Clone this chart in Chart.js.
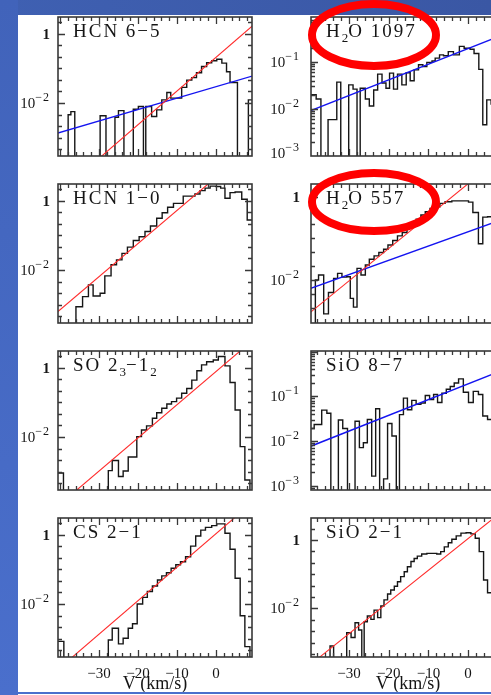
<!DOCTYPE html>
<html>
<head>
<meta charset="utf-8" />
<title>Line wings</title>
<script src="https://cdn.jsdelivr.net/npm/chart.js@4.4.1/dist/chart.umd.min.js"></script>
<style>
    html, body { margin: 0; padding: 0; }
    body { width: 491px; height: 695px; overflow: hidden; position: relative; background: #fff; }
    canvas.panel { position: absolute; z-index: 1; }
    #bandTop { position: absolute; left: 0; top: 0; width: 491px; height: 15px; background: linear-gradient(90deg, #3f60b2, #3a57a4); z-index: 2; }
    #bandLeft { position: absolute; left: 0; top: 0; width: 18px; height: 695px; background: linear-gradient(180deg, #4163ba, #4a6fcc); z-index: 2; }
    #bandBottom { position: absolute; left: 18px; top: 692px; width: 473px; height: 2px; background: #4a6fcc; z-index: 2; }
    #marks { position: absolute; left: 0; top: 0; z-index: 3; }
</style>
</head>
<body>
<div id="bandTop"></div>
<div id="bandLeft"></div>
<div id="bandBottom"></div>
<svg id="marks" width="491" height="695">
    <ellipse cx="374" cy="35" rx="62" ry="31" fill="none" stroke="#ff0000" stroke-width="8" />
    <ellipse cx="374" cy="202" rx="62" ry="29" fill="none" stroke="#ff0000" stroke-width="8" />
</svg>

<script>
// log10 of line intensity per channel, Z = no emission (drawn below the axis)
const Z = -8;

// x axis: V (km/s)
const xRangeLeft = [-40.5, 9.23];
const xRangeRight = [-39.6, 9.3];
const xTickLabels = [-30, -20, -10, 0];
// y tick labels by decade: [base, exponent]
const yLabelText = { '0': ['1', ''], '-1': ['10', '−1'], '-2': ['10', '−2'], '-3': ['10', '−3'] };

// HCN 6-5
const hcn65Edges = [-40.5, -37.9, -37.2, -36.2, -29.7, -28.2, -25.9, -25.0, -23.6, -21.2, -19.9, -18.6, -18.0, -16.5, -15.2, -13.9, -12.6, -11.6, -8.8, -7.5, -6.2, -5.0, -3.7, -2.4, -1.1, 0.2, 1.5, 2.7, 3.6, 5.5, 8.3, 9.3];
const hcn65LogT = [Z, -2.34, -2.25, Z, -2.37, Z, -2.41, -2.22, Z, -2.18, -2.10, Z, -2.10, -2.39, -2.20, -1.91, -1.70, -1.86, -1.55, -1.34, -1.27, -1.13, -0.95, -0.84, -0.78, -0.74, -0.85, -1.10, -1.41, Z, -1.91];
const hcn65Red = [[-30.0, -3.60], [9.5, 0.24]];
const hcn65Blue = [[-40.6, -2.87], [9.4, -1.22]];

// HCN 1-0
const hcn10Edges = [-40.5, -35.9, -34.2, -32.7, -31.5, -29.7, -28.5, -26.9, -25.5, -24.1, -22.7, -21.2, -19.7, -18.2, -16.8, -15.2, -13.8, -12.4, -10.9, -8.4, -5.4, -4.1, -2.8, -1.5, 0.0, 1.2, 2.3, 3.6, 4.9, 6.6, 8.0, 9.3];
const hcn10LogT = [Z, -3.06, -2.77, -2.43, -2.75, -2.67, -2.17, -1.85, -1.71, -1.52, -1.34, -1.15, -1.04, -0.89, -0.73, -0.51, -0.35, -0.19, -0.08, 0.13, 0.19, 0.29, 0.36, 0.42, 0.41, 0.36, 0.07, 0.23, 0.25, 0.04, -0.56];
const hcn10Red = [[-40.6, -3.21], [-1.5, 0.53]];

// SO 2_3-1_2
const soEdges = [-40.5, -39.1, -27.6, -26.6, -25.0, -23.8, -22.5, -20.3, -19.1, -17.8, -16.3, -15.2, -13.9, -12.6, -11.4, -10.1, -8.8, -7.5, -6.2, -4.9, -3.7, -2.4, -0.7, 0.6, 2.3, 3.6, 4.9, 6.2, 7.4, 8.7, 9.3];
const soLogT = [-3.04, Z, -2.97, -2.68, -3.14, -2.98, -2.58, -1.99, -1.80, -1.68, -1.46, -1.30, -1.17, -1.05, -0.98, -0.88, -0.74, -0.60, -0.36, -0.09, 0.08, 0.17, 0.22, 0.32, 0.05, -0.43, -1.22, -2.28, -3.24, Z];
const soRed = [[-36.0, -3.56], [6.5, 0.51]];

// CS 2-1
const csEdges = [-40.5, -39.0, -27.6, -26.6, -25.0, -23.8, -22.5, -21.4, -20.2, -18.8, -17.6, -16.3, -15.0, -13.9, -12.7, -11.5, -10.3, -9.1, -7.8, -6.5, -5.2, -3.9, -2.7, -1.1, 0.2, 2.3, 3.6, 4.9, 6.2, 7.4, 8.7, 9.3];
const csLogT = [-3.08, Z, -3.04, -2.70, -3.15, -2.99, -2.70, -2.57, -2.00, -1.81, -1.64, -1.48, -1.31, -1.19, -1.10, -0.97, -0.87, -0.78, -0.64, -0.33, -0.04, 0.13, 0.21, 0.26, 0.31, 0.04, -0.42, -1.26, -2.34, -3.23, Z];
const csRed = [[-37.0, -3.55], [5.2, 0.53]];

// H2O 1097
const h2o1097Edges = [-39.6, -38.3, -37.1, -35.3, -33.1, -32.1, -30.1, -29.0, -28.0, -27.2, -25.9, -24.9, -23.8, -22.8, -21.7, -20.7, -19.8, -18.8, -17.8, -16.7, -15.6, -14.6, -13.6, -12.5, -11.4, -10.4, -9.1, -8.3, -7.2, -6.2, -5.0, -3.7, -2.2, -1.0, 0.5, 1.5, 2.7, 3.7, 4.7, 5.8, 7.0, 9.3];
const h2o1097LogT = [-1.70, -1.79, Z, -2.23, -1.43, Z, -1.49, -1.58, Z, -1.56, -1.79, -1.94, -1.60, -1.26, -1.45, -1.56, -1.24, -1.58, -1.26, -1.49, -1.23, -1.40, -1.17, -1.06, -1.10, -1.01, -0.98, -0.92, -0.85, -0.87, -0.78, -0.85, -0.67, -0.71, -0.73, -0.82, -1.16, -2.34, -1.81, -1.90, -2.30];
const h2o1097Blue = [[-39.7, -2.04], [9.4, -0.40]];

// H2O 557
const h2o557Edges = [-39.6, -38.5, -37.7, -36.4, -35.2, -33.9, -32.9, -31.8, -30.6, -29.7, -28.9, -28.0, -27.0, -25.9, -24.9, -23.7, -22.5, -21.3, -20.2, -19.0, -17.8, -16.6, -15.4, -14.3, -13.1, -11.9, -10.8, -9.6, -8.3, -7.1, -5.8, -4.1, -2.0, 0.1, 1.2, 2.6, 3.7, 4.9, 6.2, 9.3];
const h2o557LogT = [Z, -2.00, -1.88, -2.81, -2.30, -1.96, -1.84, -1.93, -1.92, -2.44, -2.65, -1.72, -1.88, -1.64, -1.50, -1.42, -1.34, -1.26, -1.16, -1.05, -0.94, -0.86, -0.76, -0.64, -0.54, -0.44, -0.36, -0.28, -0.24, -0.16, -0.12, -0.10, -0.10, -0.13, -0.38, -1.13, -0.49, -0.48, -0.50];
const h2o557Red = [[-39.7, -2.77], [0.5, 0.35]];
const h2o557Blue = [[-39.7, -2.20], [9.4, -0.52]];

// SiO 8-7
const sio87Edges = [-39.6, -38.8, -36.9, -35.6, -34.6, -32.7, -31.6, -30.4, -28.5, -27.4, -26.4, -25.4, -24.3, -23.3, -22.3, -21.3, -20.3, -19.2, -18.1, -17.3, -16.3, -15.3, -14.2, -13.1, -11.9, -10.8, -9.7, -8.7, -7.7, -6.6, -5.5, -4.5, -3.5, -2.4, -1.2, 0.1, 1.3, 2.6, 3.7, 4.9, 6.2, 9.3];
const sio87LogT = [-1.72, -1.63, -1.31, -1.38, Z, -1.53, -1.72, Z, -1.56, -2.15, -2.04, -1.52, -2.79, -1.28, Z, -2.85, -1.61, -1.89, Z, -1.41, -1.04, -1.30, -1.09, -1.18, -1.15, -0.98, -1.07, -0.96, -1.14, -0.93, -0.84, -0.78, -0.70, -0.61, -0.91, -1.14, -0.89, -0.96, -1.44, -1.52, -2.00];
const sio87Blue = [[-39.7, -2.12], [9.4, -0.39]];

// SiO 2-1
const sio21Edges = [-39.6, -34.8, -33.9, -30.6, -29.5, -28.5, -27.6, -26.8, -26.2, -25.4, -24.5, -23.7, -22.8, -22.0, -21.2, -20.3, -19.5, -18.6, -17.8, -17.0, -16.1, -15.3, -14.4, -13.6, -12.8, -11.7, -10.4, -9.1, -7.9, -6.9, -6.0, -5.0, -4.1, -3.0, -1.8, -0.5, 0.7, 1.8, 2.8, 3.9, 4.9, 6.2, 9.3];
const sio21LogT = [Z, -3.10, Z, -2.71, -2.85, -2.42, -2.63, Z, -2.39, -2.22, -2.32, -2.05, -2.27, -1.93, -1.75, -1.58, -1.46, -1.35, -1.22, -1.07, -0.93, -0.78, -0.63, -0.54, -0.47, -0.41, -0.39, -0.39, -0.41, -0.34, -0.20, -0.08, 0.02, 0.12, 0.20, 0.21, 0.18, 0.05, -0.34, -1.17, -1.54, -2.30];
const sio21Red = [[-37.5, -3.43], [7.0, 0.69]];

// layout of the 4x2 grid
const rowTop = [17, 184, 351, 518];
const colLeft = [58, 311];
const panelW = 194, panelH = 139, yAxisW = 58;
const serif = '"Liberation Serif", "DejaVu Serif", serif';

const panels = [
    { col: 0, row: 0, label: [['HCN 6−5']], yLog: [-3.53, 0.48], yTicks: 'third', yLabels: [0, -2], edges: hcn65Edges, logT: hcn65LogT, red: hcn65Red, blue: hcn65Blue },
    { col: 1, row: 0, label: [['H'], ['2', 1], ['O 1097']], yLog: [-3.005, -0.043], yTicks: 'decade', yLabels: [-1, -2, -3], edges: h2o1097Edges, logT: h2o1097LogT, blue: h2o1097Blue },
    { col: 0, row: 1, label: [['HCN 1−0']], yLog: [-3.53, 0.48], yTicks: 'third', yLabels: [0, -2], edges: hcn10Edges, logT: hcn10LogT, red: hcn10Red },
    { col: 1, row: 1, label: [['H'], ['2', 1], ['O 557']], yLog: [-3.03, 0.305], yTicks: 'third', yLabels: [0, -2], edges: h2o557Edges, logT: h2o557LogT, red: h2o557Red, blue: h2o557Blue },
    { col: 0, row: 2, label: [['SO 2'], ['3', 1], ['−1'], ['2', 1]], yLog: [-3.53, 0.48], yTicks: 'third', yLabels: [0, -2], edges: soEdges, logT: soLogT, red: soRed },
    { col: 1, row: 2, label: [['SiO 8−7']], yLog: [-3.1, 0.016], yTicks: 'decade', yLabels: [-1, -2, -3], edges: sio87Edges, logT: sio87LogT, blue: sio87Blue },
    { col: 0, row: 3, label: [['CS 2−1']], yLog: [-3.53, 0.48], yTicks: 'third', yLabels: [0, -2], edges: csEdges, logT: csLogT, red: csRed },
    { col: 1, row: 3, label: [['SiO 2−1']], yLog: [-3.42, 0.643], yTicks: 'third', yLabels: [0, -2], edges: sio21Edges, logT: sio21LogT, red: sio21Red }
];

function yTickList(mode, lo, hi) {
    const list = [];
    if (mode === 'third') {
        for (let k = Math.ceil(lo * 3 - 1e-6); k <= Math.floor(hi * 3 + 1e-6); k++) {
            list.push({ value: Math.pow(10, k / 3), major: k % 6 === 0 });
        }
    } else {
        for (let e = Math.floor(lo); e <= Math.ceil(hi); e++) {
            for (let m = 1; m <= 9; m++) {
                const l = e + Math.log10(m);
                if (l >= lo - 1e-6 && l <= hi + 1e-6) list.push({ value: m * Math.pow(10, e), major: m === 1 });
            }
        }
    }
    return list;
}

const panelFrame = {
    id: 'panelFrame',
    afterDraw(chart, args, opts) {
        const { ctx, chartArea: a, scales: { x, y } } = chart;
        ctx.save();
        ctx.strokeStyle = '#383838';
        ctx.lineWidth = 1.3;
        ctx.beginPath();
        opts.xTicks.forEach(v => {
            const px = Math.round(x.getPixelForValue(v)) + 0.5;
            if (px < a.left + 1 || px > a.right - 1) return;
            const len = v % 10 === 0 ? 7 : 4;
            ctx.moveTo(px, a.bottom); ctx.lineTo(px, a.bottom - len);
            ctx.moveTo(px, a.top); ctx.lineTo(px, a.top + len);
        });
        opts.yTicks.forEach(t => {
            const py = Math.round(y.getPixelForValue(t.value)) + 0.5;
            if (py < a.top + 1 || py > a.bottom - 1) return;
            const len = t.major ? 7 : 4;
            ctx.moveTo(a.left, py); ctx.lineTo(a.left + len, py);
            ctx.moveTo(a.right, py); ctx.lineTo(a.right - len, py);
        });
        ctx.stroke();
        ctx.lineWidth = 1.6;
        ctx.strokeRect(a.left, a.top, a.right - a.left, a.bottom - a.top);

        ctx.fillStyle = '#151515';
        ctx.textBaseline = 'alphabetic';
        ctx.textAlign = 'left';

        // y labels: 1, 10^-n
        opts.yLabels.forEach(e => {
            const [base, sup] = yLabelText[String(e)];
            const py = Math.min(y.getPixelForValue(Math.pow(10, e)), a.bottom - 3);
            const right = a.left - opts.yPad;
            let ws = 0;
            if (sup) {
                ctx.font = '12px ' + serif;
                ctx.letterSpacing = '1px';
                ws = ctx.measureText(sup).width;
                ctx.fillText(sup, right - ws, py - 2);
            }
            ctx.font = (sup ? '' : 'bold ') + '15px ' + serif;
            ctx.letterSpacing = '0px';
            const wb = ctx.measureText(base).width;
            ctx.fillText(base, right - ws - wb, py + 5);
        });

        // panel name, with subscripts
        let tx = a.left + 15;
        const ty = a.top + 20;
        opts.label.forEach(([s, sub]) => {
            ctx.font = (sub ? '13px ' : '19px ') + serif;
            ctx.letterSpacing = sub ? '0px' : '2px';
            ctx.fillText(s, tx, ty + (sub ? 5 : 0));
            tx += ctx.measureText(s).width;
        });
        ctx.restore();
    }
};

panels.forEach(p => {
    const bottomRow = p.row === 3;
    const xh = bottomRow ? 38 : 10;
    const xr = p.col === 0 ? xRangeLeft : xRangeRight;
    const canvas = document.createElement('canvas');
    canvas.className = 'panel';
    canvas.width = yAxisW + panelW + 3;
    canvas.height = 2 + panelH + xh;
    canvas.style.left = (colLeft[p.col] - yAxisW) + 'px';
    canvas.style.top = (rowTop[p.row] - 2) + 'px';
    document.body.appendChild(canvas);

    const xTicks = [];
    for (let v = -40; v <= 8; v += 2) if (v >= xr[0] && v <= xr[1]) xTicks.push(v);
    const yTicks = yTickList(p.yTicks, p.yLog[0], p.yLog[1]);

    const datasets = [];
    if (p.red) datasets.push({ data: p.red.map(([v, l]) => ({ x: v, y: Math.pow(10, l) })), borderColor: '#ff2a2a', borderWidth: 1.1 });
    if (p.blue) datasets.push({ data: p.blue.map(([v, l]) => ({ x: v, y: Math.pow(10, l) })), borderColor: '#1414f0', borderWidth: 1.4 });
    datasets.push({
        data: p.edges.map((v, i) => ({ x: v, y: Math.pow(10, p.logT[Math.min(i, p.logT.length - 1)]) })),
        stepped: 'before',
        borderColor: '#161616',
        borderWidth: 1.4
    });

    new Chart(canvas.getContext('2d'), {
        type: 'line',
        data: { datasets: datasets },
        options: {
            responsive: false,
            animation: false,
            events: [],
            layout: { padding: { left: 0, right: 3, top: 2, bottom: 0 } },
            elements: { point: { radius: 0 }, line: { tension: 0 } },
            plugins: {
                legend: { display: false },
                tooltip: { enabled: false },
                panelFrame: { xTicks: xTicks, yTicks: yTicks, yLabels: p.yLabels, yPad: p.col === 0 ? 8 : 11, label: p.label }
            },
            scales: {
                x: {
                    type: 'linear', min: xr[0], max: xr[1], bounds: 'data',
                    afterBuildTicks: ax => { ax.ticks = xTicks.map(v => ({ value: v })); },
                    afterFit: ax => { ax.height = xh; ax.paddingLeft = 0; ax.paddingRight = 0; },
                    grid: { display: false, drawTicks: false },
                    border: { display: false },
                    ticks: {
                        display: bottomRow, autoSkip: false, maxRotation: 0, padding: 8, color: '#151515',
                        font: { family: serif, size: 15 },
                        callback: v => xTickLabels.includes(v) ? String(v).replace('-', '−') : ''
                    },
                    title: {
                        display: bottomRow, text: 'V (km/s)', color: '#151515',
                        font: { family: serif, size: 18 }, padding: { top: 0, bottom: 0 }
                    }
                },
                y: {
                    type: 'logarithmic', min: Math.pow(10, p.yLog[0]), max: Math.pow(10, p.yLog[1]), bounds: 'data',
                    afterBuildTicks: ax => { ax.ticks = yTicks.map(t => ({ value: t.value })); },
                    afterFit: ax => { ax.width = yAxisW; ax.paddingTop = 0; ax.paddingBottom = 0; },
                    grid: { display: false, drawTicks: false },
                    border: { display: false },
                    ticks: { display: false, autoSkip: false }
                }
            }
        },
        plugins: [panelFrame]
    });
});
</script>
</body>
</html>
